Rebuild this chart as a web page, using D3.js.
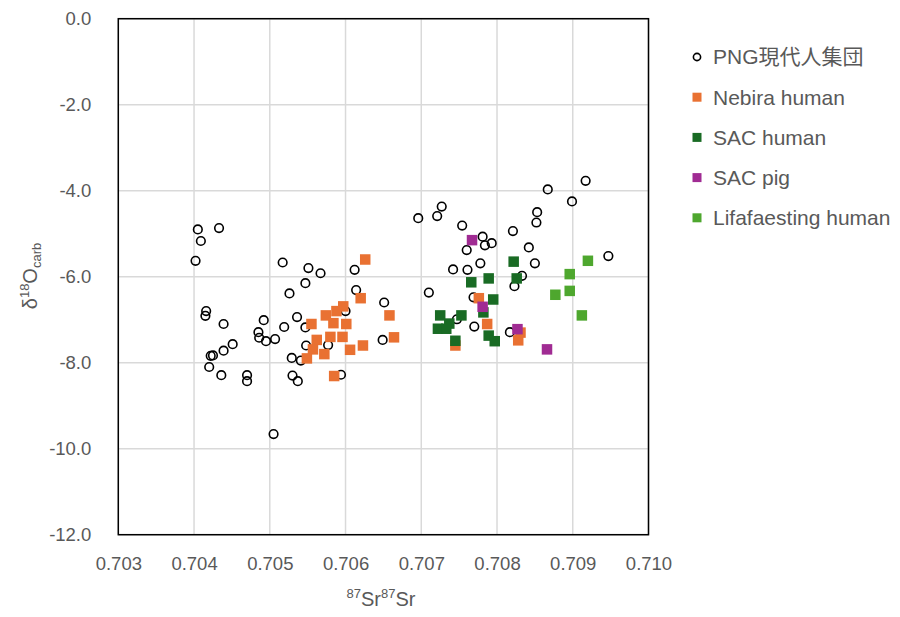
<!DOCTYPE html>
<html><head><meta charset="utf-8">
<script src="https://cdn.jsdelivr.net/npm/d3@7"></script>
<style>body{margin:0;background:#fff}svg{display:block}</style>
</head><body><svg id="c" width="900" height="617"></svg>
<script>
const xTicks = [0.703,0.704,0.705,0.706,0.707,0.708,0.709,0.710];
const yTicks = [0,-2,-4,-6,-8,-10,-12];
const seriesNames = ["PNG現代人集団","Nebira human","SAC human","SAC pig","Lifafaesting human"];
const seriesColors = ["#000000","#E97132","#196B24","#A02B93","#4EA72E"];

const pngSr = [0.70405,0.70433,0.70409,0.70402,0.70517,0.70551,0.70547,0.70526,0.70416,0.70415,0.70439,0.70492,0.70536,0.70519,0.70547,0.70485,0.70486,0.70495,0.70507,0.70451,0.70439,0.70422,0.70425,0.70420,0.70436,0.70470,0.70470,0.70529,0.70541,0.70548,0.70530,0.70537,0.70505,0.70567,0.70612,0.70614,0.70651,0.70649,0.70600,0.70577,0.70594,0.70696,0.70721,0.70727,0.70754,0.70781,0.70784,0.70793,0.70760,0.70821,0.70842,0.70778,0.70742,0.70761,0.70833,0.70823,0.70710,0.70769,0.70747,0.70770,0.70817,0.70867,0.70917,0.70899,0.70853,0.70852,0.70850,0.70947];
const pngO  = [-4.90,-4.87,-5.17,-5.63,-5.67,-5.80,-6.15,-6.39,-6.80,-6.91,-7.10,-7.01,-6.94,-7.17,-7.18,-7.29,-7.42,-7.50,-7.45,-7.57,-7.72,-7.84,-7.83,-8.10,-8.29,-8.29,-8.43,-7.89,-7.95,-7.60,-8.30,-8.43,-9.66,-5.92,-5.84,-6.31,-6.60,-7.47,-6.80,-7.59,-8.28,-4.64,-4.59,-4.37,-4.81,-5.07,-5.27,-5.22,-5.38,-4.94,-5.32,-5.69,-5.83,-5.84,-5.98,-6.22,-6.37,-6.48,-6.99,-7.16,-7.29,-3.97,-3.77,-4.25,-4.50,-4.74,-5.69,-5.52];

const nebiraSr = [0.70626,0.70620,0.70597,0.70588,0.70574,0.70555,0.70584,0.70601,0.70580,0.70596,0.70562,0.70557,0.70572,0.70549,0.70606,0.70623,0.70585,0.70658,0.70664,0.70776,0.70787,0.70828,0.70831,0.70745];
const nebiraO  = [-5.60,-6.50,-6.69,-6.80,-6.90,-7.10,-7.08,-7.10,-7.40,-7.40,-7.47,-7.69,-7.80,-7.90,-7.70,-7.60,-8.31,-6.90,-7.41,-6.50,-7.10,-7.48,-7.30,-7.60];

const sacHumanSr = [0.70822,0.70826,0.70789,0.70766,0.70795,0.70782,0.70753,0.70725,0.70737,0.70722,0.70733,0.70745,0.70789,0.70797];
const sacHumanO  = [-5.65,-6.04,-6.04,-6.13,-6.53,-6.83,-6.90,-6.90,-7.09,-7.21,-7.21,-7.49,-7.37,-7.50];

const sacPigSr = [0.70767,0.70781,0.70827,0.70866];
const sacPigO  = [-5.15,-6.70,-7.22,-7.69];

const lifaSr = [0.70920,0.70896,0.70896,0.70877,0.70912];
const lifaO  = [-5.63,-5.94,-6.33,-6.42,-6.90];

const svg = d3.select("#c");
const L = 118.3, R = 648.5, T = 18.7, B = 534.7;
const x = d3.scaleLinear().domain([0.703,0.710]).range([L,R]);
const y = d3.scaleLinear().domain([0,-12]).range([T,B]);
const font = "'Liberation Sans', Arial, sans-serif";
const txt = "#595959";

// grid
svg.append("g").selectAll("line").data(xTicks).join("line")
  .attr("x1",d=>x(d)).attr("x2",d=>x(d)).attr("y1",T).attr("y2",B)
  .attr("stroke","#d9d9d9").attr("stroke-width",1.5);
svg.append("g").selectAll("line").data(yTicks).join("line")
  .attr("y1",d=>y(d)).attr("y2",d=>y(d)).attr("x1",L).attr("x2",R)
  .attr("stroke","#d9d9d9").attr("stroke-width",1.5);

// axes tick labels
const xAxis = d3.axisBottom(x).tickValues(xTicks).tickFormat(d3.format(".3f")).tickSize(0).tickPadding(22);
const gx = svg.append("g").attr("transform",`translate(0,${B})`).call(xAxis);
gx.select(".domain").remove();
gx.selectAll("text").attr("font-family",font).attr("font-size",18.5).attr("fill",txt);

const fmtY = d => d3.format(".1f")(d).replace("\u2212","-");
const yAxis = d3.axisLeft(y).tickValues(yTicks).tickFormat(fmtY).tickSize(0).tickPadding(27);
const gy = svg.append("g").attr("transform",`translate(${L},0)`).call(yAxis);
gy.select(".domain").remove();
gy.selectAll("text").attr("font-family",font).attr("font-size",18.5).attr("fill",txt);

// frame
svg.append("rect").attr("x",L).attr("y",T).attr("width",R-L).attr("height",B-T)
  .attr("fill","none").attr("stroke","#000").attr("stroke-width",1.5);

// data
function pts(xs,ys){return xs.map((v,i)=>({x:v,y:ys[i]}));}
const S = 10.5;
svg.append("g").selectAll("circle").data(pts(pngSr,pngO)).join("circle")
  .attr("cx",d=>x(d.x)).attr("cy",d=>y(d.y)).attr("r",4.3)
  .attr("fill","none").attr("stroke","#000").attr("stroke-width",1.6);
[[nebiraSr,nebiraO,1],[sacHumanSr,sacHumanO,2],[sacPigSr,sacPigO,3],[lifaSr,lifaO,4]].forEach(([xs,ys,k])=>{
  svg.append("g").selectAll("rect").data(pts(xs,ys)).join("rect")
    .attr("x",d=>x(d.x)-S/2).attr("y",d=>y(d.y)-S/2).attr("width",S).attr("height",S)
    .attr("fill",seriesColors[k]);
});

// legend
const lg = svg.append("g");
seriesNames.forEach((n,i)=>{
  const cy = 57 + i*40.2;
  if(i===0){
    lg.append("circle").attr("cx",697).attr("cy",cy).attr("r",3.6).attr("fill","none").attr("stroke","#000").attr("stroke-width",1.6);
  } else {
    lg.append("rect").attr("x",697-4.5).attr("y",cy-4.5).attr("width",9).attr("height",9).attr("fill",seriesColors[i]);
  }
  lg.append("text").attr("x",713).attr("y",cy).attr("dy","0.35em").attr("font-family",font+", 'Noto Sans CJK JP'")
    .attr("font-size",21).attr("fill",txt).text(n);
});

// axis titles
const xt = svg.append("text").attr("x",381).attr("y",606).attr("text-anchor","middle")
  .attr("font-family",font).attr("font-size",20).attr("fill",txt);
xt.append("tspan").attr("font-size",13).attr("dy",-8).text("87");
xt.append("tspan").attr("dy",8).text("Sr");
xt.append("tspan").attr("font-size",13).attr("dy",-8).text("87");
xt.append("tspan").attr("dy",8).text("Sr");

const yt = svg.append("text").attr("transform","translate(37,276) rotate(-90)").attr("text-anchor","middle")
  .attr("font-family",font).attr("font-size",20).attr("fill",txt);
yt.append("tspan").text("δ");
yt.append("tspan").attr("font-size",13).attr("dy",-8).text("18");
yt.append("tspan").attr("dy",8).text("O");
yt.append("tspan").attr("font-size",13).attr("dy",4).text("carb");
</script></body></html>
